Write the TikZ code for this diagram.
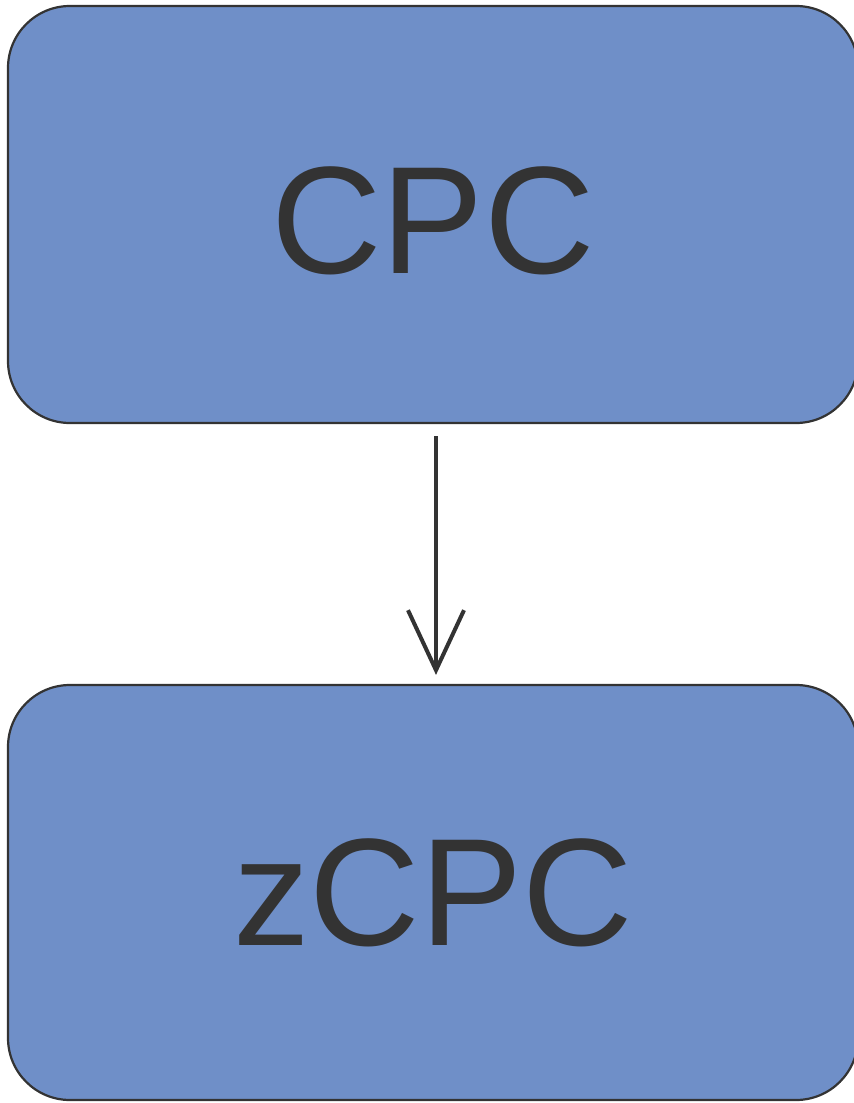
\documentclass[tikz,border=0pt]{standalone}
\usepackage{fontspec}
\setmainfont{Liberation Sans}
\usetikzlibrary{arrows.meta}
\definecolor{boxfill}{HTML}{6F8FC8}
\definecolor{ink}{HTML}{333333}
\tikzset{
  blockbox/.style={draw=ink, line width=2.2pt, fill=boxfill, rounded corners=62pt,
    minimum width=850pt, inner sep=0pt, text=ink,
    font=\fontsize{153}{160}\selectfont},
  flowarrow/.style={draw=ink, line width=3.2pt, -{Straight Barb[length=60pt,width=56pt,line width=4pt]}}
}
\begin{document}
\begin{tikzpicture}[x=1pt,y=1pt]
\useasboundingbox (0,0) rectangle (854,-1103);
\node[blockbox, minimum height=417pt, text height=117pt, text depth=0pt] (cpc) at (433,-214.5) {CPC};
\node[blockbox, minimum height=415pt] (zcpc) at (433,-892.5) {zCPC};
\draw[flowarrow] ([shift={(3pt,-12pt)}]cpc.south) -- ([shift={(3pt,9pt)}]zcpc.north);
\end{tikzpicture}
\end{document}
